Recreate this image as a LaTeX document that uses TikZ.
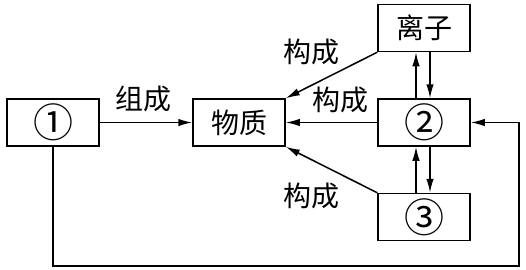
\documentclass[tikz,border=0pt]{standalone}
\usepackage{fontspec}
\setmainfont{Noto Sans CJK SC}
\usetikzlibrary{arrows.meta}
\begin{document}
\begin{tikzpicture}[x=1pt,y=-1pt,
  box/.style={draw,line width=1.5pt,minimum width=92pt,minimum height=47pt,inner sep=0pt,font=\fontsize{28}{28}\selectfont},
  num/.style={font=\fontsize{40}{40}\selectfont},
  lbl/.style={inner sep=0pt,font=\fontsize{28}{28}\selectfont},
  arr/.style={line width=1.5pt,-{Latex[length=14pt,width=7.5pt]}}]
\useasboundingbox (0,0) rectangle (526,269);
\node[box,num] (n1) at (53,122.5) {①};
\node[box] (wz) at (239,122.5) {物质};
\node[box] (lz) at (424,28) {离子};
\node[box,num] (n2) at (424,122.5) {②};
\node[box,num] (n3) at (424,217) {③};
\node[lbl] (l0) at (143.5,99) {组成};
\node[lbl] (l1) at (311,52) {构成};
\node[lbl] (l2) at (340,100) {构成};
\node[lbl] (l3) at (311,196) {构成};
\draw[arr] (n1.east) -- (wz.west);
\draw[arr] (n2.west) -- (wz.east);
\draw[arr] (lz.south west) -- (wz.north east);
\draw[arr] (n3.north west) -- (wz.south east);
\draw[arr] ([xshift=-8pt]n2.north) -- ([xshift=-8pt]lz.south);
\draw[arr] ([xshift=6pt]lz.south) -- ([xshift=6pt]n2.north);
\draw[arr] ([xshift=-8pt]n3.north) -- ([xshift=-8pt]n2.south);
\draw[arr] ([xshift=6pt]n2.south) -- ([xshift=6pt]n3.north);
\coordinate (lb) at (52,266);
\coordinate (rb) at (519,266);
\draw[arr] (n1.south) -- (n1.south |- lb) -- (rb) -- (rb |- n2.east) -- (n2.east);
\end{tikzpicture}
\end{document}
